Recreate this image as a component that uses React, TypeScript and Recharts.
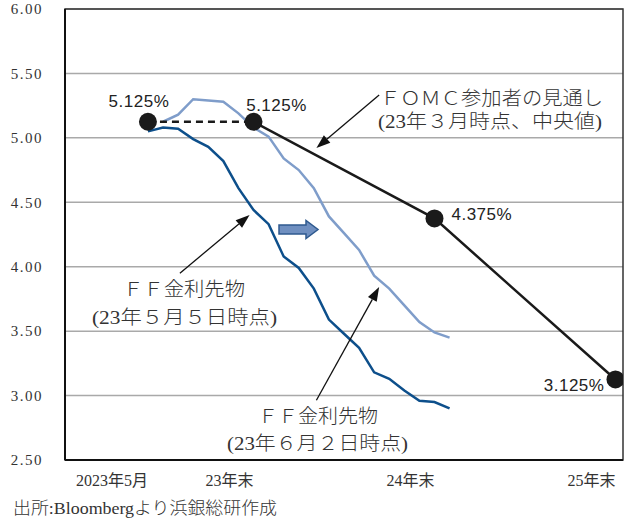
import React from "react";
import {
  LineChart,
  Line,
  XAxis,
  YAxis,
  CartesianGrid,
  ReferenceArea,
  ReferenceLine,
  LabelList,
} from "recharts";

// months counted from 2023年5月 (= 0); 23年末 = 7, 24年末 = 19, 25年末 = 31
const mayFuturesMonths = [0, 1, 2, 3, 4, 5, 6, 7, 8, 9, 10, 11, 12, 13, 14, 15, 16, 17, 18, 19, 20];
const mayFuturesRates = [
  5.05, 5.08, 5.07, 4.99, 4.93, 4.82, 4.61, 4.44, 4.33, 4.08, 3.99,
  3.83, 3.59, 3.48, 3.37, 3.18, 3.13, 3.04, 2.96, 2.95, 2.9,
];

const juneFuturesMonths = [1, 2, 3, 4, 5, 6, 7, 8, 9, 10, 11, 12, 13, 14, 15, 16, 17, 18, 19, 20];
const juneFuturesRates = [
  5.125, 5.18, 5.3, 5.29, 5.28, 5.19, 5.08, 5.01, 4.84, 4.75,
  4.61, 4.39, 4.26, 4.13, 3.93, 3.83, 3.7, 3.57, 3.49, 3.45,
];

// FOMC median projection (March 2023)
const fomcMonths = [0, 7, 19, 31];
const fomcRates = [5.125, 5.125, 4.375, 3.125];

const xTickMonths = [0, 7, 19, 31];
const xTickLabels = ["2023年5月", "23年末", "24年末", "25年末"];
const yTicks = [2.5, 3, 3.5, 4, 4.5, 5, 5.5, 6];

const toPoints = (months: number[], rates: number[]) =>
  months.map((m, i) => ({ m, v: rates[i] }));

const mayFutures = toPoints(mayFuturesMonths, mayFuturesRates);
const juneFutures = toPoints(juneFuturesMonths, juneFuturesRates);
const fomc = toPoints(fomcMonths, fomcRates);
const fomcDashed = fomc.slice(0, 2);
const fomcSolid = fomc.slice(1);

const SERIF = "'Liberation Serif', 'Noto Sans CJK JP', serif";
const JP = "'Liberation Serif', 'Noto Sans CJK JP', sans-serif";
const SANS = "'Liberation Sans', 'Noto Sans', sans-serif";

// label placement around each FOMC dot
const rateLabelPos = [
  { dx: -9, dy: -20, anchor: "middle" },
  { dx: 23, dy: -16, anchor: "middle" },
  { dx: 17, dy: -4, anchor: "start" },
  { dx: -11, dy: 6, anchor: "end" },
];

// callout arrows, in (month, rate) coordinates: [from, to]
const arrows = [
  [{ x: 15.33, y: 5.332 }, { x: 11.17, y: 4.921 }],
  [{ x: 2.12, y: 3.95 }, { x: 6.74, y: 4.401 }],
  [{ x: 11.17, y: 2.964 }, { x: 15.33, y: 3.842 }],
];

const RateLabel = (props: any) => {
  const { x, y, value, index } = props;
  const p = rateLabelPos[index];
  return (
    <text
      x={x + p.dx}
      y={y + p.dy}
      textAnchor={p.anchor}
      dominantBaseline="central"
      fontFamily={SANS}
      fontSize={17}
      fill="#222"
      letterSpacing={0.5}
    >
      {`${Number(value).toFixed(3)}%`}
    </text>
  );
};

const ArrowShape = (props: any) => {
  const { x1, y1, x2, y2 } = props;
  const ang = Math.atan2(y2 - y1, x2 - x1);
  const len = 14;
  const half = 5;
  const bx = x2 - len * Math.cos(ang);
  const by = y2 - len * Math.sin(ang);
  const px = -Math.sin(ang) * half;
  const py = Math.cos(ang) * half;
  return (
    <g>
      <line x1={x1} y1={y1} x2={bx} y2={by} stroke="#111" strokeWidth={1.3} />
      <polygon
        points={`${x2},${y2} ${bx + px},${by + py} ${bx - px},${by - py}`}
        fill="#111"
      />
    </g>
  );
};

const XTick = (props: any) => {
  const { x, y, payload } = props;
  const label = xTickLabels[xTickMonths.indexOf(payload.value)];
  return (
    <text
      x={x}
      y={y + 20}
      textAnchor="end"
      dominantBaseline="central"
      fontFamily={SERIF}
      fontSize={16}
      fill="#333"
    >
      {label}
    </text>
  );
};

const noteStyle = {
  fontFamily: JP,
  fontSize: 19,
  fill: "#333",
  fontWeight: 300,
};

export default function App() {
  return (
    <div style={{ position: "relative", width: 625, height: 520, background: "#fff" }}>
      <style>{`body { margin: 0; } .recharts-surface { overflow: visible; }`}</style>
      <LineChart
        width={625}
        height={520}
        margin={{ top: 9, right: 2, bottom: 30, left: 0 }}
      >
        <CartesianGrid vertical={false} stroke="#a9a9a9" strokeWidth={1.5} />
        <XAxis
          type="number"
          dataKey="m"
          domain={[-5.5, 31.5]}
          allowDataOverflow
          ticks={xTickMonths}
          tick={<XTick />}
          tickSize={0}
          tickMargin={0}
          tickLine={false}
          height={30}
          axisLine={{ stroke: "#111", strokeWidth: 2 }}
        />
        <YAxis
          type="number"
          domain={[2.5, 6]}
          ticks={yTicks}
          width={65}
          tickSize={0}
          tickMargin={22}
          tickLine={false}
          tickFormatter={(v: number) => v.toFixed(2)}
          tick={{ fontFamily: SERIF, fontSize: 15, fill: "#333", letterSpacing: 1.5 }}
          axisLine={{ stroke: "#111", strokeWidth: 2 }}
        />
        <ReferenceArea
          x1={-5.5}
          x2={31.5}
          y1={2.5}
          y2={6}
          fill="none"
          fillOpacity={0}
          stroke="#333"
          strokeWidth={1.5}
        />
        <Line
          data={mayFutures}
          dataKey="v"
          type="linear"
          stroke="#0d4f8b"
          strokeWidth={2.5}
          dot={false}
          isAnimationActive={false}
        />
        <Line
          data={juneFutures}
          dataKey="v"
          type="linear"
          stroke="#7f9dca"
          strokeWidth={2.5}
          dot={false}
          isAnimationActive={false}
        />
        <Line
          data={fomcDashed}
          dataKey="v"
          type="linear"
          stroke="#1a1a1a"
          strokeWidth={2.5}
          strokeDasharray="7 5"
          dot={false}
          isAnimationActive={false}
        />
        <Line
          data={fomcSolid}
          dataKey="v"
          type="linear"
          stroke="#1a1a1a"
          strokeWidth={2.5}
          dot={false}
          isAnimationActive={false}
        />
        <Line
          data={fomc}
          dataKey="v"
          type="linear"
          stroke="none"
          dot={{ r: 9, fill: "#1a1a1a", stroke: "none" }}
          isAnimationActive={false}
        >
          <LabelList dataKey="v" content={<RateLabel />} />
        </Line>
        {arrows.map((seg, i) => (
          <ReferenceLine
            key={i}
            segment={seg}
            ifOverflow="visible"
            shape={<ArrowShape />}
          />
        ))}
      </LineChart>
      <svg
        width={625}
        height={520}
        style={{ position: "absolute", left: 0, top: 0, pointerEvents: "none" }}
      >
        <polygon
          points="279,225 306,225 306,220.5 318,229.5 306,238.5 306,234 279,234"
          fill="#6f8fc0"
          stroke="#2f5a8f"
          strokeWidth={1.5}
        />
        <g {...noteStyle} dominantBaseline="central">
          <text x={380} y={98} textLength={223} lengthAdjust="spacingAndGlyphs">
            ＦＯＭＣ参加者の見通し
          </text>
          <text x={378} y={121} textLength={224} lengthAdjust="spacingAndGlyphs">
            (23年３月時点、中央値)
          </text>
          <text x={123} y={289} textLength={122} lengthAdjust="spacingAndGlyphs">
            ＦＦ金利先物
          </text>
          <text x={92} y={317} textLength={185} lengthAdjust="spacingAndGlyphs">
            (23年５月５日時点)
          </text>
          <text x={258} y={416} textLength={120} lengthAdjust="spacingAndGlyphs">
            ＦＦ金利先物
          </text>
          <text x={227} y={443} textLength={181} lengthAdjust="spacingAndGlyphs">
            (23年６月２日時点)
          </text>
          <text x={13} y={508} fontSize={17} textLength={264} lengthAdjust="spacingAndGlyphs">
            出所:Bloombergより浜銀総研作成
          </text>
        </g>
      </svg>
    </div>
  );
}
